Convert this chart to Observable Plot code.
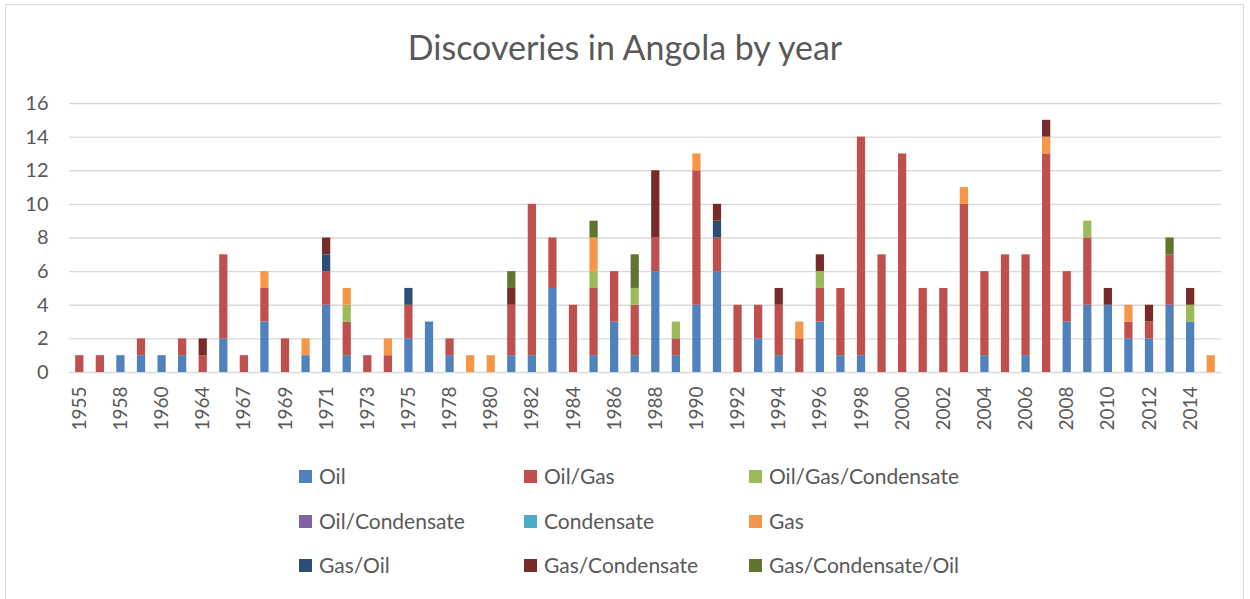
<!DOCTYPE html>
<html>
<head>
<meta charset="utf-8">
<script src="https://cdn.jsdelivr.net/npm/d3@7"></script>
<script src="https://cdn.jsdelivr.net/npm/@observablehq/plot@0.6"></script>
<style>
  html, body { margin: 0; padding: 0; background: #fff; }
  #chart { position: relative; width: 1250px; height: 599px; overflow: hidden; font-family: Lato, "Open Sans", sans-serif; color: #595959; }
  #frame { position: absolute; left: 5px; top: 4px; width: 1239px; height: 620px; border: 1px solid #d9d9d9; box-sizing: border-box; }
  #title { position: absolute; left: 0; width: 1250px; top: 27px; text-align: center; font-size: 34px; line-height: 40px; }
  #plot { position: absolute; left: 0; top: 0; }
  .legend-item { position: absolute; display: flex; align-items: center; font-size: 21px; line-height: 24px; white-space: nowrap; }
  .legend-item .sw { width: 13px; height: 13px; margin-right: 7px; }
</style>
</head>
<body>
<div id="chart">
  <div id="frame"></div>
  <div id="title">Discoveries in Angola by year</div>
  <div id="plot"></div>
</div>
<script>
// Years with at least one discovery (x categories)
const years = ["1955","1956","1958","1959","1960","1962","1964","1966","1967","1968",
  "1969","1970","1971","1972","1973","1974","1975","1976","1978","1979",
  "1980","1981","1982","1983","1984","1985","1986","1987","1988","1989",
  "1990","1991","1992","1993","1994","1995","1996","1997","1998","1999",
  "2000","2001","2002","2003","2004","2005","2006","2007","2008","2009",
  "2010","2011","2012","2013","2014","2015"];

// Year labels shown along the x axis
const xTickLabels = ["1955","1958","1960","1964","1967","1969","1971","1973","1975","1978",
  "1980","1982","1984","1986","1988","1990","1992","1994","1996","1998",
  "2000","2002","2004","2006","2008","2010","2012","2014"];

const yTicks = [0, 2, 4, 6, 8, 10, 12, 14, 16];

// Discovery counts per type, one value per year above
const oil        = [0,0,1,1,1,1,0,2,0,3, 0,1,4,1,0,0,2,3,1,0, 0,1,1,5,0,1,3,1,6,1, 4,6,0,2,1,0,3,1,1,0, 0,0,0,0,1,0,1,0,3,4, 4,2,2,4,3,0];
const oilGas     = [1,1,0,1,0,1,1,5,1,2, 2,0,2,2,1,1,2,0,1,0, 0,3,9,3,4,4,3,3,2,1, 8,2,4,2,3,2,2,4,13,7, 13,5,5,10,5,7,6,13,3,4, 0,1,1,3,0,0];
const oilGasCond = [0,0,0,0,0,0,0,0,0,0, 0,0,0,1,0,0,0,0,0,0, 0,0,0,0,0,1,0,1,0,1, 0,0,0,0,0,0,1,0,0,0, 0,0,0,0,0,0,0,0,0,1, 0,0,0,0,1,0];
const oilCond    = [0,0,0,0,0,0,0,0,0,0, 0,0,0,0,0,0,0,0,0,0, 0,0,0,0,0,0,0,0,0,0, 0,0,0,0,0,0,0,0,0,0, 0,0,0,0,0,0,0,0,0,0, 0,0,0,0,0,0];
const condensate = [0,0,0,0,0,0,0,0,0,0, 0,0,0,0,0,0,0,0,0,0, 0,0,0,0,0,0,0,0,0,0, 0,0,0,0,0,0,0,0,0,0, 0,0,0,0,0,0,0,0,0,0, 0,0,0,0,0,0];
const gas        = [0,0,0,0,0,0,0,0,0,1, 0,1,0,1,0,1,0,0,0,1, 1,0,0,0,0,2,0,0,0,0, 1,0,0,0,0,1,0,0,0,0, 0,0,0,1,0,0,0,1,0,0, 0,1,0,0,0,1];
const gasOil     = [0,0,0,0,0,0,0,0,0,0, 0,0,1,0,0,0,1,0,0,0, 0,0,0,0,0,0,0,0,0,0, 0,1,0,0,0,0,0,0,0,0, 0,0,0,0,0,0,0,0,0,0, 0,0,0,0,0,0];
const gasCond    = [0,0,0,0,0,0,1,0,0,0, 0,0,1,0,0,0,0,0,0,0, 0,1,0,0,0,0,0,0,4,0, 0,1,0,0,1,0,1,0,0,0, 0,0,0,0,0,0,0,1,0,0, 1,0,1,0,1,0];
const gasCondOil = [0,0,0,0,0,0,0,0,0,0, 0,0,0,0,0,0,0,0,0,0, 0,1,0,0,0,1,0,2,0,0, 0,0,0,0,0,0,0,0,0,0, 0,0,0,0,0,0,0,0,0,0, 0,0,0,1,0,0];

const types  = ["Oil","Oil/Gas","Oil/Gas/Condensate","Oil/Condensate","Condensate","Gas","Gas/Oil","Gas/Condensate","Gas/Condensate/Oil"];
const series = [oil, oilGas, oilGasCond, oilCond, condensate, gas, gasOil, gasCond, gasCondOil];
const colors = ["#4f81bd","#c0504d","#9bbb59","#8064a2","#4bacc6","#f79646","#2c4d75","#772c2a","#5f7530"];

// Long table: one row per year and type, stacked in type order
const rows = years.flatMap((year, i) =>
  types.map((type, k) => ({year, type, value: series[k][i]})).filter(d => d.value > 0)
);

const chart = Plot.plot({
  width: 1250,
  height: 440,
  marginTop: 103,
  marginBottom: 68,
  marginLeft: 69,
  marginRight: 29,
  style: {fontFamily: "Lato, 'Open Sans', sans-serif", fontSize: "19px", color: "#595959", background: "transparent", overflow: "visible"},
  x: {type: "band", domain: years, paddingInner: 0.6, paddingOuter: 0.3},
  y: {domain: [0, 16]},
  color: {domain: types, range: colors},
  marks: [
    Plot.ruleY(yTicks, {stroke: "#d9d9d9", strokeWidth: 1.3}),
    Plot.barY(rows, {x: "year", y: "value", fill: "type", inset: 0}),
    Plot.axisY({ticks: yTicks, tickSize: 0, tickPadding: 21, label: null, fontSize: 20}),
    Plot.axisX({ticks: xTickLabels, tickRotate: -90, tickSize: 0, tickPadding: 14, label: null, fontSize: 19})
  ]
});
document.getElementById("plot").appendChild(chart);

// Legend: three columns, three rows
const legendCols = [299, 524, 749];
const legendRows = [476, 521, 565];
const root = document.getElementById("chart");
types.forEach((t, i) => {
  const item = document.createElement("div");
  item.className = "legend-item";
  item.style.left = legendCols[i % 3] + "px";
  item.style.top = (legendRows[Math.floor(i / 3)] - 12) + "px";
  const sw = document.createElement("span");
  sw.className = "sw";
  sw.style.background = colors[i];
  const label = document.createElement("span");
  label.textContent = t;
  item.appendChild(sw);
  item.appendChild(label);
  root.appendChild(item);
});
</script>
</body>
</html>
